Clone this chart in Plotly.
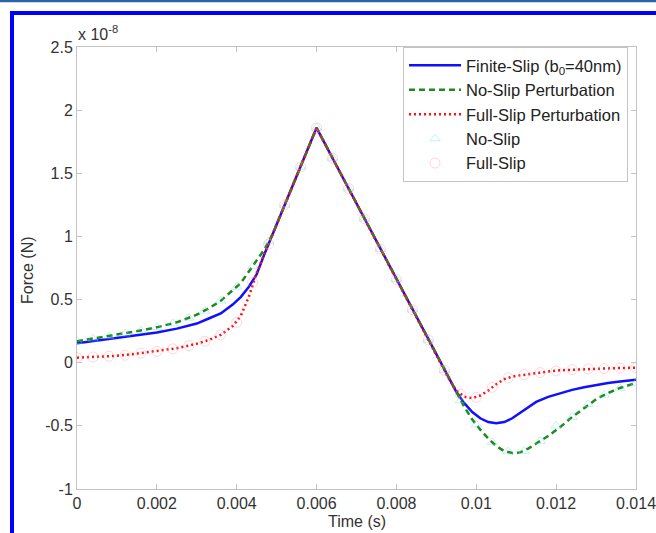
import plotly.graph_objects as go

# ---------------- data (force in units of 1e-8 N) ----------------
t_line = [0, 0.0005, 0.001, 0.0015, 0.002, 0.0025, 0.003, 0.0033, 0.0036, 0.0039,
          0.0041, 0.0043, 0.0045, 0.0047, 0.0049, 0.0051, 0.0055, 0.006, 0.0065,
          0.007, 0.0075, 0.008, 0.0085, 0.009, 0.0093, 0.0095, 0.0097, 0.0099,
          0.0101, 0.0103, 0.0105, 0.0107, 0.0109, 0.0111, 0.0113, 0.0115, 0.0118,
          0.0121, 0.0124, 0.0127, 0.013, 0.0133, 0.0136, 0.014]

finite_slip = [0.155, 0.175, 0.195, 0.215, 0.24, 0.27, 0.31, 0.35, 0.39, 0.46,
               0.52, 0.6, 0.70, 0.865, 1.018, 1.17, 1.478, 1.86, 1.56,
               1.26, 0.96, 0.66, 0.36, 0.06, -0.12, -0.23, -0.32, -0.39,
               -0.44, -0.47, -0.48, -0.47, -0.44, -0.395, -0.35, -0.31, -0.27,
               -0.24, -0.215, -0.195, -0.175, -0.16, -0.148, -0.135]

no_slip_pert = [0.17, 0.195, 0.22, 0.25, 0.28, 0.32, 0.38, 0.43, 0.49, 0.57,
                0.63, 0.72, 0.81, 0.90, 1.018, 1.17, 1.478, 1.86, 1.56,
                1.26, 0.96, 0.66, 0.36, 0.06, -0.12, -0.24, -0.35, -0.45,
                -0.53, -0.60, -0.66, -0.70, -0.715, -0.71, -0.68, -0.64, -0.58,
                -0.51, -0.43, -0.36, -0.29, -0.24, -0.20, -0.16]

full_slip_pert = [0.04, 0.045, 0.055, 0.072, 0.092, 0.115, 0.15, 0.18, 0.22, 0.29,
                  0.37, 0.52, 0.7125, 0.865, 1.018, 1.17, 1.478, 1.86, 1.56,
                  1.26, 0.96, 0.66, 0.36, 0.06, -0.12, -0.22, -0.27, -0.28,
                  -0.26, -0.22, -0.17, -0.13, -0.11, -0.10, -0.09, -0.08, -0.07,
                  -0.06, -0.055, -0.05, -0.048, -0.045, -0.042, -0.04]

t_mark = [0, 0.0004, 0.0008, 0.0012, 0.0016, 0.002, 0.0024, 0.0028, 0.0032, 0.0036,
          0.004, 0.0044, 0.0048, 0.0052, 0.0056, 0.006, 0.0064, 0.0068, 0.0072,
          0.0076, 0.008, 0.0084, 0.0088, 0.0092, 0.0096, 0.01, 0.0104, 0.0108,
          0.0112, 0.0116, 0.012, 0.0124, 0.0128, 0.0132, 0.0136, 0.014]

no_slip = [0.17, 0.19, 0.21, 0.23, 0.255, 0.28, 0.31, 0.355, 0.41, 0.49,
           0.60, 0.765, 0.96, 1.25, 1.55, 1.86, 1.62, 1.38, 1.14,
           0.90, 0.66, 0.42, 0.18, -0.06, -0.30, -0.49, -0.63, -0.705,
           -0.70, -0.62, -0.50, -0.43, -0.33, -0.255, -0.20, -0.16]

full_slip = [0.04, 0.045, 0.052, 0.06, 0.075, 0.09, 0.11, 0.135, 0.17, 0.22,
             0.32, 0.636, 0.94, 1.25, 1.55, 1.86, 1.62, 1.38, 1.14,
             0.90, 0.66, 0.42, 0.18, -0.06, -0.25, -0.275, -0.195, -0.12,
             -0.095, -0.078, -0.065, -0.055, -0.05, -0.046, -0.042, -0.04]

x_ticks = [0, 0.002, 0.004, 0.006, 0.008, 0.01, 0.012, 0.014]
x_tick_text = ["0", "0.002", "0.004", "0.006", "0.008", "0.01", "0.012", "0.014"]
y_ticks = [-1, -0.5, 0, 0.5, 1, 1.5, 2, 2.5]
y_tick_text = ["-1", "-0.5", "0", "0.5", "1", "1.5", "2", "2.5"]

# ---------------- layout geometry ----------------
W, H = 656, 533
L, R, T, B = 77, 20, 47, 44
pw, ph = W - L - R, H - T - B


def px(x):
    return (x - L) / pw


def py(y):
    return (H - B - y) / ph


FONT = "Liberation Sans, Arial, sans-serif"
TXT = "#333333"
AX = "#c4c4c4"
FS = 16

fig = go.Figure()
fig.add_trace(go.Scatter(x=t_line, y=finite_slip, mode="lines",
                         name="Finite-Slip (b<sub>0</sub>=40nm)", legendgroup="a",
                         line=dict(color="#1010ff", width=2.5)))
fig.add_trace(go.Scatter(x=t_line, y=no_slip_pert, mode="lines",
                         name="No-Slip Perturbation", legendgroup="b",
                         line=dict(color="#1c8a1c", width=2.5, dash="6px,4px")))
fig.add_trace(go.Scatter(x=t_line, y=full_slip_pert, mode="lines",
                         name="Full-Slip Perturbation", legendgroup="c",
                         line=dict(color="#ff1010", width=2.5, dash="2px,3px")))
fig.add_trace(go.Scatter(x=t_mark, y=no_slip, mode="markers",
                         name="No-Slip", legendgroup="d",
                         marker=dict(symbol="triangle-up-open", size=9,
                                     color="rgba(110,215,225,0.4)",
                                     line=dict(width=1))))
fig.add_trace(go.Scatter(x=t_mark, y=full_slip, mode="markers",
                         name="Full-Slip", legendgroup="e",
                         marker=dict(symbol="circle-open", size=10,
                                     color="rgba(255,150,175,0.4)",
                                     line=dict(width=1))))

axis_common = dict(showline=True, linecolor=AX, linewidth=1, mirror="ticks",
                   ticks="inside", ticklen=5, tickcolor=AX, showgrid=False,
                   zeroline=False, ticklabeloverflow="allow",
                   tickfont=dict(family=FONT, size=FS, color=TXT))

fig.update_layout(
    width=W, height=H,
    margin=dict(l=L, r=R, t=T, b=B, autoexpand=False),
    paper_bgcolor="white", plot_bgcolor="white",
    font=dict(family=FONT, size=FS, color=TXT),
    xaxis=dict(range=[0, 0.014], tickvals=x_ticks, ticktext=x_tick_text, **axis_common),
    yaxis=dict(range=[-1, 2.5], tickvals=y_ticks, ticktext=y_tick_text, **axis_common),
    legend=dict(x=px(403), y=1, xanchor="left", yanchor="top",
                bgcolor="white", bordercolor=AX, borderwidth=1,
                font=dict(family=FONT, size=16.5, color="#222222"),
                itemwidth=52, tracegroupgap=0),
    annotations=[
        dict(text="x 10<sup>-8</sup>", xref="paper", yref="paper", x=px(76), y=py(33),
             xanchor="left", yanchor="middle", showarrow=False,
             font=dict(family=FONT, size=FS, color=TXT)),
        dict(text="Time (s)", xref="paper", yref="paper", x=0.5, y=py(521),
             xanchor="center", yanchor="middle", showarrow=False,
             font=dict(family=FONT, size=FS, color=TXT)),
        dict(text="Force (N)", xref="paper", yref="paper", x=px(27), y=py(270),
             xanchor="center", yanchor="middle", showarrow=False, textangle=-90,
             font=dict(family=FONT, size=FS, color=TXT)),
    ],
    shapes=[
        dict(type="line", xref="paper", yref="paper", x0=px(-5), x1=px(700),
             y0=py(1), y1=py(1), line=dict(color="#2a64a8", width=2.5)),
        dict(type="line", xref="paper", yref="paper", x0=px(10), x1=px(700),
             y0=py(13), y1=py(13), line=dict(color="#0000ff", width=4)),
        dict(type="line", xref="paper", yref="paper", x0=px(12), x1=px(12),
             y0=py(11), y1=py(560), line=dict(color="#0000ff", width=4)),
    ],
)

fig.write_html("out.html", post_script="document.body.style.margin='0px';",
               config={"displayModeBar": False})
